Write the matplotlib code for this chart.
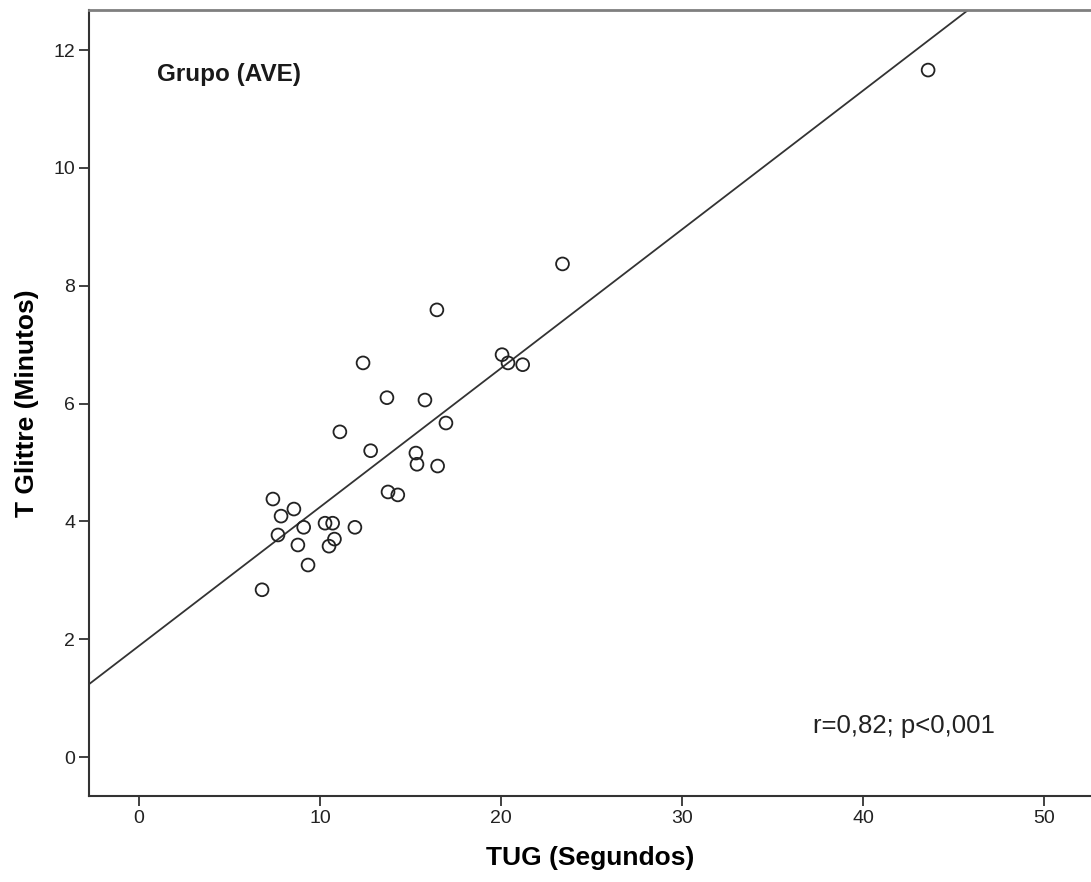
import numpy as np
import matplotlib
matplotlib.use("Agg")
import matplotlib.pyplot as plt

plt.rcParams['font.family'] = ['Liberation Sans', 'DejaVu Sans']

# TUG (segundos) vs T Glittre (minutos)
tug = [43.6, 23.4, 16.46, 20.06, 20.39, 21.2, 12.38, 13.7, 15.8, 16.96,
       11.1, 12.8, 15.3, 15.36, 16.5, 13.76, 14.3, 7.4, 8.56, 7.85,
       9.1, 10.28, 10.7, 11.93, 7.68, 10.8, 8.78, 10.5, 9.34, 6.8]
glittre = [11.66, 8.37, 7.59, 6.83, 6.69, 6.66, 6.69, 6.10, 6.06, 5.67,
           5.52, 5.20, 5.16, 4.97, 4.94, 4.50, 4.45, 4.38, 4.21, 4.09,
           3.90, 3.97, 3.97, 3.90, 3.77, 3.70, 3.60, 3.58, 3.26, 2.84]
xticks = [0, 10, 20, 30, 40, 50]
yticks = [0, 2, 4, 6, 8, 10, 12]

fig = plt.figure(figsize=(10.91, 8.82), dpi=100)
ax = fig.add_axes([0.0816, 0.0975, 0.9184, 0.8912])

xlim = (-2.76, 52.6)
ylim = (-0.66, 12.68)

slope, inter = np.polyfit(tug, glittre, 1)
xs = np.array(xlim)
ax.plot(xs, inter + slope * xs, color='#333333', lw=1.3, zorder=2)

ax.scatter(tug, glittre, s=85, facecolors='none', edgecolors='#222222',
           linewidths=1.3, zorder=3)

ax.set_xlim(xlim)
ax.set_ylim(ylim)
ax.set_xticks(xticks)
ax.set_yticks(yticks)
ax.tick_params(direction='out', length=7, width=1.3, color='#333333',
               labelsize=14, labelcolor='#222222', pad=3)

for s in ['left', 'bottom']:
    ax.spines[s].set_color('#333333')
    ax.spines[s].set_linewidth(1.5)
ax.spines['top'].set_color('#7f7f7f')
ax.spines['top'].set_linewidth(2)
ax.spines['right'].set_visible(False)

ax.set_xlabel('TUG (Segundos)', fontsize=19, fontweight='bold', labelpad=14)
ax.set_ylabel('T Glittre (Minutos)', fontsize=19, fontweight='bold', labelpad=10)

ax.text(0.068, 0.918, 'Grupo (AVE)', transform=ax.transAxes, fontsize=17.5,
        fontweight='bold', color='#1a1a1a', va='center', ha='left')
ax.text(0.723, 0.089, 'r=0,82; p<0,001', transform=ax.transAxes, fontsize=18.5,
        color='#222222', va='center', ha='left')

fig.savefig('out.png', dpi=100)
